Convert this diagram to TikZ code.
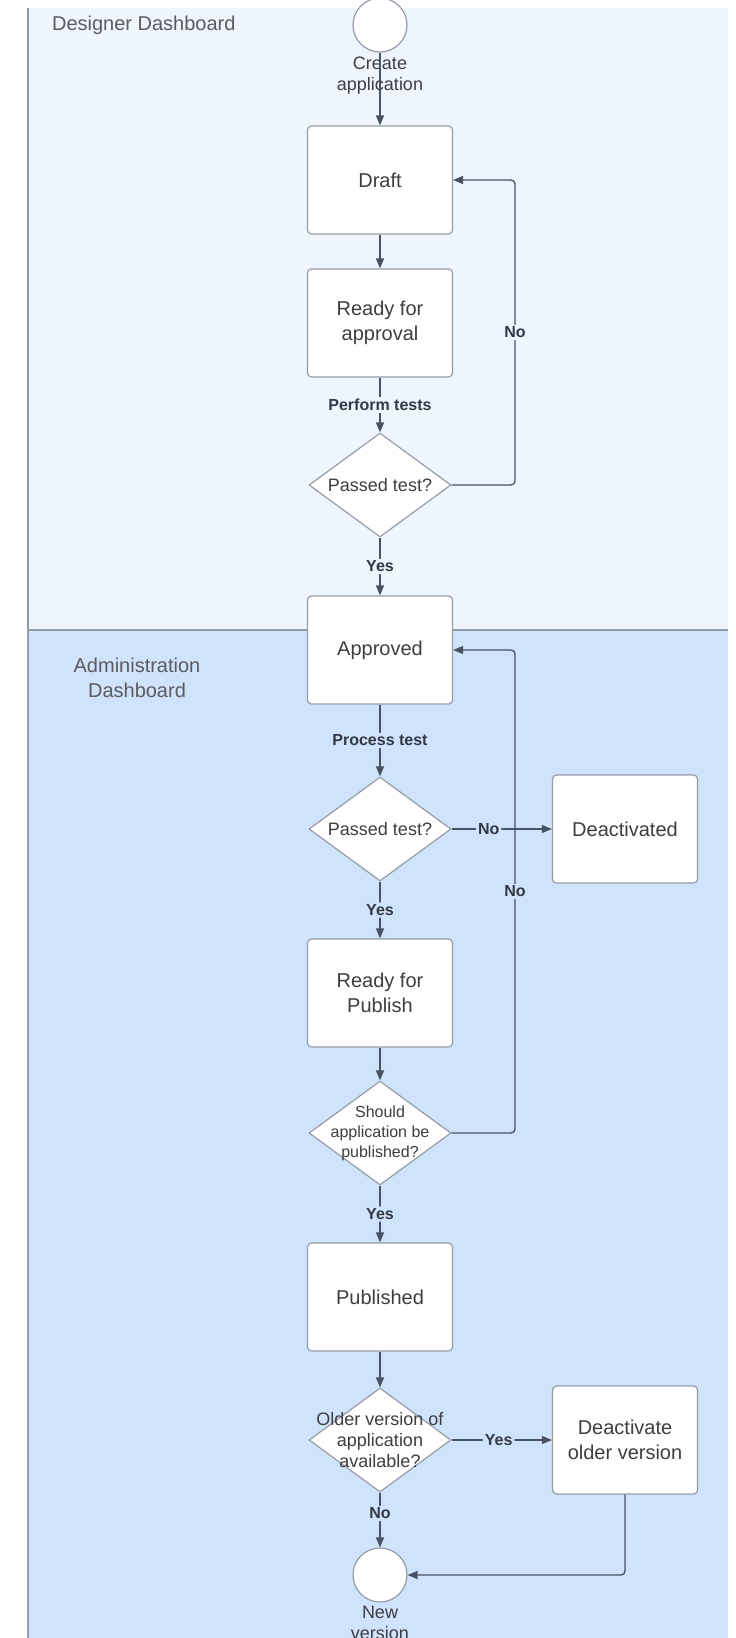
\documentclass[tikz,border=0pt]{standalone}
\usepackage{fontspec}
\setmainfont{Liberation Sans}
\usetikzlibrary{shapes.geometric,arrows.meta}

\definecolor{designerlane}{RGB}{238,245,255}
\definecolor{adminlane}{RGB}{207,227,252}
\definecolor{flowline}{RGB}{72,82,98}
\definecolor{boxborder}{RGB}{150,156,166}
\definecolor{labeltext}{RGB}{62,62,66}

\tikzset{
  statebox/.style={draw=boxborder, fill=white, rounded corners=2pt, line width=0.6pt,
      minimum width=72.5pt, minimum height=54pt, align=center,
      font=\fontsize{10}{12.5}\selectfont, text=labeltext},
  decision/.style={draw=boxborder, fill=white, diamond, line width=0.6pt,
      minimum width=71pt, minimum height=52pt, inner sep=0pt},
  dectext/.style={font=\fontsize{9}{10.5}\selectfont, align=center, text=labeltext},
  terminal/.style={draw=boxborder, fill=white, circle, line width=0.6pt,
      minimum size=27pt, inner sep=0pt},
  flow/.style={draw=flowline, line width=0.65pt, rounded corners=2pt,
      -{Triangle[width=4pt,length=5pt]}},
  edgelabel/.style={font=\bfseries\fontsize{8}{9.6}\selectfont, text=flowline!70!black,
      inner sep=1pt},
  lanelabel/.style={font=\fontsize{10}{12.5}\selectfont, text=labeltext!85!white, align=center}
}

\begin{document}
\begin{tikzpicture}[x=0.5pt, y=-0.5pt]
    \useasboundingbox (0,0) rectangle (735,1638);
    % swim lanes
    \fill[designerlane] (28,8) rectangle (728,630);
    \fill[adminlane] (28,630) rectangle (728,1640);
    \draw[boxborder, line width=0.8pt] (28,8) -- (28,1640);
    \draw[boxborder, line width=1pt] (28,630) -- (728,630);
    \node[lanelabel, anchor=west] (designerlbl) at (45,25) {Designer Dashboard};
    \node[lanelabel] (adminlbl) at (137,678) {Administration\\Dashboard};

    % states and decisions
    \node[terminal] (start) at (380,25) {};
    \node[dectext] (createlbl) at (380,76) {Create\\application};
    \node[statebox] (draft) at (380,180) {Draft};
    \node[statebox] (readyappr) at (380,323) {Ready for\\approval};
    \node[decision, label={[dectext]center:Passed test?}] (test1) at (380,485) {};
    \node[statebox] (approved) at (380,650) {Approved};
    \node[decision, label={[dectext]center:Passed test?}] (test2) at (380,829) {};
    \node[statebox] (deact) at (625,829) {Deactivated};
    \node[statebox] (readypub) at (380,993) {Ready for\\Publish};
    \node[decision, label={[dectext, font=\fontsize{8}{10}\selectfont]center:Should\\application be\\published?}] (publish) at (380,1133) {};
    \node[statebox] (published) at (380,1297) {Published};
    \node[decision, label={[dectext]center:Older version of\\application\\available?}] (older) at (380,1440) {};
    \node[statebox] (deactold) at (625,1440) {Deactivate\\older version};
    \node[terminal] (newver) at (380,1575) {};
    \node[dectext] (newverlbl) at (380,1623) {New\\version};

    % connectors
    \draw[flow] (start) -- (draft);
    \draw[flow] (draft) -- (readyappr);
    \draw[flow] (readyappr) -- node[edgelabel, fill=designerlane]{Perform tests} (test1);
    \draw[flow] (test1.east) -- (515,485) -- node[edgelabel, fill=designerlane]{No} (515,180) -- (draft.east);
    \draw[flow] (test1) -- node[edgelabel, fill=designerlane]{Yes} (approved);
    \draw[flow] (approved) -- node[edgelabel, fill=adminlane]{Process test} (test2);
    \draw[flow] (test2) -- node[edgelabel, fill=adminlane, pos=0.37]{No} (deact);
    \draw[flow] (test2) -- node[edgelabel, fill=adminlane]{Yes} (readypub);
    \draw[flow] (readypub) -- (publish);
    \draw[flow] (publish.east) -- (515,1133) -- node[edgelabel, fill=adminlane]{No} (515,650) -- (approved.east);
    \draw[flow] (publish) -- node[edgelabel, fill=adminlane]{Yes} (published);
    \draw[flow] (published) -- (older);
    \draw[flow] (older) -- node[edgelabel, fill=adminlane, pos=0.47]{Yes} (deactold);
    \draw[flow] (older) -- node[edgelabel, fill=adminlane, pos=0.38]{No} (newver);
    \draw[flow] (deactold) |- (newver);
\end{tikzpicture}
\end{document}
